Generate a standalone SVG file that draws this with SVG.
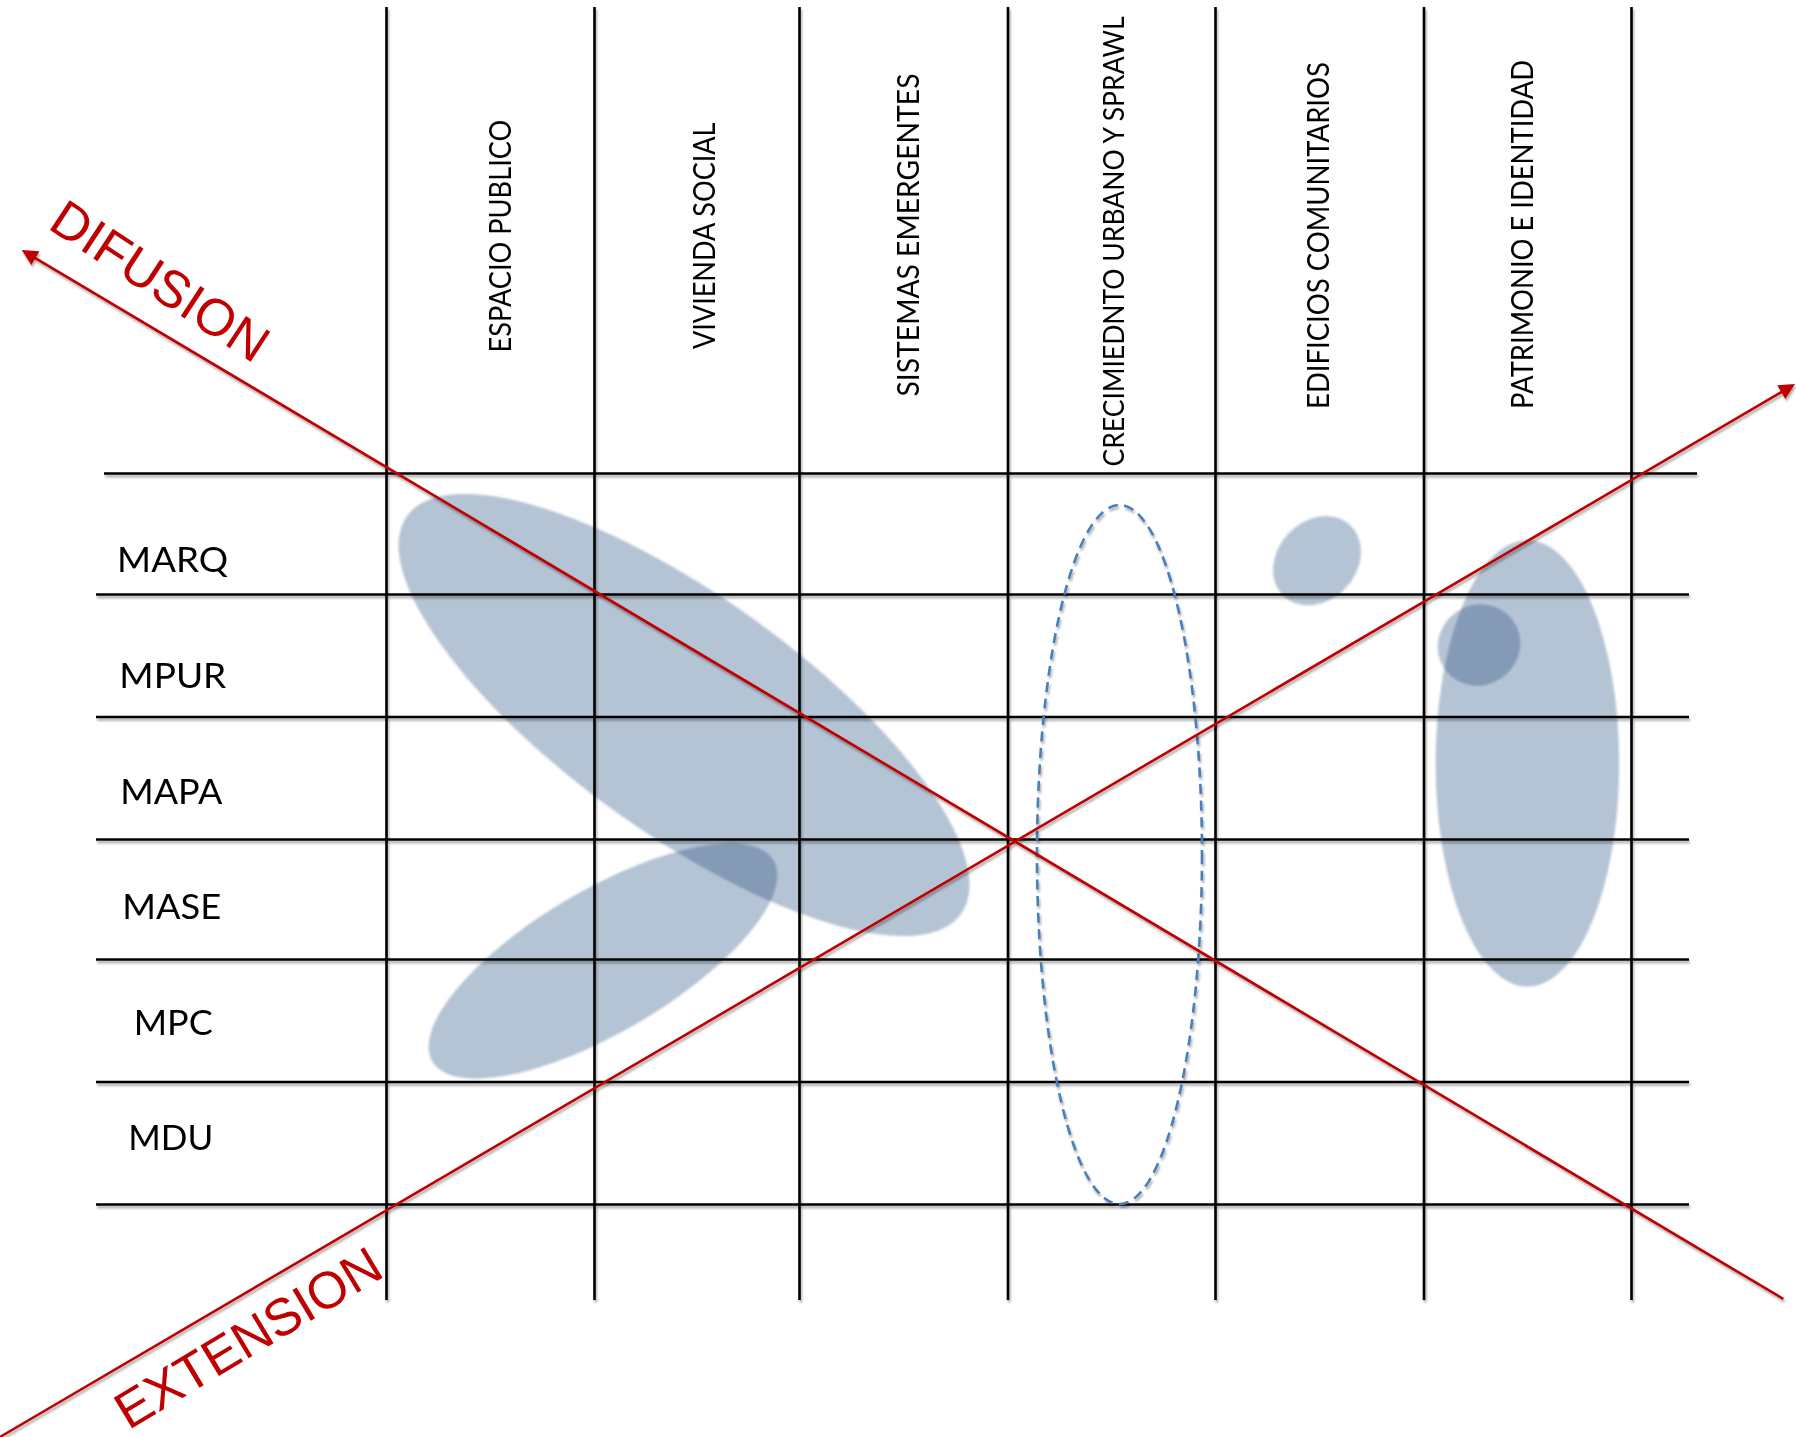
<svg xmlns="http://www.w3.org/2000/svg" width="1796" height="1437" viewBox="0 0 1796 1437">
  <style>
    .grid line { stroke: #000; stroke-width: 2.6; }
    .blob { fill: #1F497D; fill-opacity: 0.33; }
    .axis { stroke: #C00000; stroke-width: 2.6; fill: none; }
    .row { font-family: Lato, "Open Sans", sans-serif; font-size: 35px; fill: #000; text-anchor: middle; }
    .col { font-family: Lato, "Open Sans", sans-serif; font-size: 31px; fill: #000; }
    .dir { font-family: "Liberation Sans", Arial, sans-serif; font-size: 52px; fill: #C00000; }
  </style>
  <defs>
    <filter id="shadow" x="-5%" y="-5%" width="110%" height="110%">
      <feDropShadow dx="1.2" dy="2.5" stdDeviation="1.3" flood-color="#000" flood-opacity="0.35"/>
    </filter>
    <filter id="soft" x="-10%" y="-10%" width="120%" height="120%">
      <feGaussianBlur stdDeviation="1.2"/>
    </filter>
    <marker id="arrow" markerUnits="userSpaceOnUse" markerWidth="18" markerHeight="18" refX="6" refY="8" orient="auto">
      <path d="M0,0 L16,8 L0,16 z" fill="#C00000"/>
    </marker>
  </defs>
  <rect width="1796" height="1437" fill="#fff"/>

  <g id="blobs" filter="url(#soft)">
    <g id="blob-espacio-vivienda"><ellipse class="blob" cx="684" cy="715" rx="341" ry="118.5" transform="rotate(35.7 684 715)"/></g>
    <g id="blob-mase-mpc"><ellipse class="blob" cx="603" cy="961" rx="198" ry="71" transform="rotate(-30.5 603 961)"/></g>
    <g id="blob-edificios"><ellipse class="blob" cx="1317" cy="560.7" rx="48.5" ry="39.5" transform="rotate(-47 1317 560.7)"/></g>
    <g id="blob-patrimonio"><ellipse class="blob" cx="1527.4" cy="763.4" rx="91.8" ry="223.2"/></g>
    <g id="blob-patrimonio-mpur"><ellipse class="blob" cx="1479" cy="645" rx="42" ry="40" transform="rotate(-35 1479 645)"/></g>
  </g>

  <g id="grid" class="grid" filter="url(#shadow)">
    <line x1="386.5" y1="7" x2="386.5" y2="1300"/>
    <line x1="594.5" y1="7" x2="594.5" y2="1300"/>
    <line x1="799.5" y1="7" x2="799.5" y2="1300"/>
    <line x1="1008" y1="7" x2="1008" y2="1300"/>
    <line x1="1215.5" y1="7" x2="1215.5" y2="1300"/>
    <line x1="1424" y1="7" x2="1424" y2="1300"/>
    <line x1="1631.5" y1="7" x2="1631.5" y2="1300"/>
    <line x1="104" y1="473.5" x2="1697" y2="473.5"/>
    <line x1="96" y1="594.5" x2="1689" y2="594.5"/>
    <line x1="96" y1="717" x2="1689" y2="717"/>
    <line x1="96" y1="839.5" x2="1689" y2="839.5"/>
    <line x1="96" y1="959.5" x2="1689" y2="959.5"/>
    <line x1="96" y1="1082" x2="1689" y2="1082"/>
    <line x1="96" y1="1204.5" x2="1689" y2="1204.5"/>
  </g>

  <g id="dashed-sprawl" filter="url(#shadow)">
    <ellipse cx="1119.5" cy="854.5" rx="82.5" ry="349.5" fill="none" stroke="#4A7EBB" stroke-width="2.6" stroke-dasharray="10 6.5"/>
  </g>

  <g id="connectors" filter="url(#shadow)">
    <line id="difusion-arrow" class="axis" x1="1783.4" y1="1299" x2="30.3" y2="255.1" marker-end="url(#arrow)"/>
    <line id="extension-arrow" class="axis" x1="-6" y1="1440.5" x2="1786.4" y2="389.1" marker-end="url(#arrow)"/>
  </g>

  <g id="label-difusion"><text class="dir" transform="translate(46.4 227.7) rotate(33.3)">DIFUSION</text></g>
  <g id="label-extension"><text class="dir" transform="translate(128.5 1430.4) rotate(-31)">EXTENSION</text></g>

  <g id="row-marq"><text class="row" x="172.6" y="572.3" textLength="111" lengthAdjust="spacingAndGlyphs">MARQ</text></g>
  <g id="row-mpur"><text class="row" x="172.8" y="688" textLength="107" lengthAdjust="spacingAndGlyphs">MPUR</text></g>
  <g id="row-mapa"><text class="row" x="171.3" y="804" textLength="102" lengthAdjust="spacingAndGlyphs">MAPA</text></g>
  <g id="row-mase"><text class="row" x="171.7" y="919.3" textLength="99" lengthAdjust="spacingAndGlyphs">MASE</text></g>
  <g id="row-mpc"><text class="row" x="173.2" y="1035.3" textLength="79" lengthAdjust="spacingAndGlyphs">MPC</text></g>
  <g id="row-mdu"><text class="row" x="170.7" y="1150" textLength="85" lengthAdjust="spacingAndGlyphs">MDU</text></g>

  <g id="col-espacio"><text class="col" transform="translate(510.9 352.5) rotate(-90)" textLength="232.8" lengthAdjust="spacingAndGlyphs">ESPACIO PUBLICO</text></g>
  <g id="col-vivienda"><text class="col" transform="translate(714.8 349) rotate(-90)" textLength="226.5" lengthAdjust="spacingAndGlyphs">VIVIENDA SOCIAL</text></g>
  <g id="col-sistemas"><text class="col" transform="translate(918.8 396.5) rotate(-90)" textLength="323" lengthAdjust="spacingAndGlyphs">SISTEMAS EMERGENTES</text></g>
  <g id="col-crecimiento"><text class="col" style="font-size:29px" transform="translate(1123.5 466.5) rotate(-90)" textLength="450" lengthAdjust="spacingAndGlyphs">CRECIMIEDNTO URBANO Y SPRAWL</text></g>
  <g id="col-edificios"><text class="col" transform="translate(1328.5 409) rotate(-90)" textLength="347" lengthAdjust="spacingAndGlyphs">EDIFICIOS COMUNITARIOS</text></g>
  <g id="col-patrimonio"><text class="col" transform="translate(1532.6 409) rotate(-90)" textLength="349" lengthAdjust="spacingAndGlyphs">PATRIMONIO E IDENTIDAD</text></g>
</svg>
